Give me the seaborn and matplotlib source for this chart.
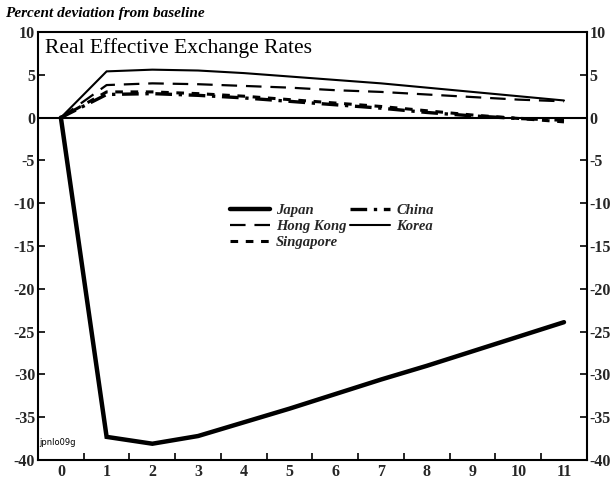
import matplotlib
matplotlib.use("Agg")
import matplotlib.pyplot as plt
import seaborn as sns
import pandas as pd

# Years after the shock
years = [0, 1, 2, 3, 4, 5, 6, 7, 8, 9, 10, 11]

# Percent deviation from baseline, by economy
japan = [0.0, -37.3, -38.1, -37.2, -35.6, -34.0, -32.3, -30.6, -29.0, -27.3, -25.6, -23.9]
hong_kong = [0.0, 3.8, 4.0, 3.9, 3.7, 3.5, 3.2, 3.0, 2.7, 2.4, 2.1, 1.9]
singapore = [0.0, 3.0, 3.0, 2.8, 2.5, 2.1, 1.7, 1.3, 0.8, 0.3, -0.1, -0.5]
china = [0.0, 2.7, 2.8, 2.6, 2.3, 1.9, 1.5, 1.1, 0.6, 0.2, -0.1, -0.3]
korea = [0.0, 5.4, 5.6, 5.5, 5.2, 4.8, 4.4, 4.0, 3.5, 3.0, 2.5, 2.0]

y_ticks = [10, 5, 0, -5, -10, -15, -20, -25, -30, -35, -40]

sns.set_theme(style="white")
plt.rcParams["font.family"] = ["Liberation Serif", "DejaVu Serif"]

fig = plt.figure(figsize=(6.16, 4.79), dpi=100)
ax = fig.add_axes([0.0617, 0.0397, 0.891, 0.8935])

styles = {
    "Japan": dict(data=japan, lw=3.2, dashes=None),
    "Hong Kong": dict(data=hong_kong, lw=1.6, dashes=(7, 4)),
    "Singapore": dict(data=singapore, lw=2.2, dashes=(2.5, 2.5)),
    "China": dict(data=china, lw=2.4, dashes=(5, 2, 1, 2)),
    "Korea": dict(data=korea, lw=1.5, dashes=None),
}

handles = {}
for name, st in styles.items():
    sns.lineplot(x=years, y=st["data"], ax=ax, color="black", lw=st["lw"],
                 label=name, solid_joinstyle="miter")
    line = ax.get_lines()[-1]
    if st["dashes"] is not None:
        line.set_dashes(st["dashes"])
    handles[name] = line

ax.axhline(0, color="black", lw=1.5, zorder=1)

ax.set_xlim(-0.5, 11.5)
ax.set_ylim(-40, 10)
ax.set_xticks(years)
ax.set_xticklabels([str(y) for y in years], fontsize=11.5)
ax.set_xticks([x + 0.5 for x in years[:-1]], minor=True)
ax.tick_params(axis="x", which="major", length=0, pad=3)
ax.tick_params(axis="x", which="minor", direction="in", length=5, width=1.2,
               color="black", bottom=True)
ax.set_yticks(y_ticks)
ax.set_yticklabels([str(v) for v in y_ticks], fontsize=11.5)
ax.tick_params(axis="y", which="major", direction="in", length=5, width=1.2,
               color="black", left=True, right=True, labelleft=True,
               labelright=True, pad=2)
for lbl in ax.get_xticklabels() + ax.get_yticklabels():
    lbl.set_fontweight("bold")
for sp in ax.spines.values():
    sp.set_color("black")
    sp.set_linewidth(1.5)
ax.set_xlabel("")
ax.set_ylabel("")

order = ["Japan", "Hong Kong", "Singapore", "China", "Korea"]
leg = ax.legend([handles[n] for n in order], order, loc="center",
                bbox_to_anchor=(0.535, 0.545), ncol=2, frameon=False,
                handlelength=2.8, handletextpad=0.4, columnspacing=0.2,
                labelspacing=0.2,
                prop=dict(family="Liberation Serif", style="italic",
                          weight="bold", size=10.5))

ax.text(0.012, 0.985, "Real Effective Exchange Rates", transform=ax.transAxes,
        ha="left", va="top", fontsize=15.5, color="black")
fig.text(0.008, 0.972, "Percent deviation from baseline", ha="left", va="center",
         fontsize=11, style="italic", weight="bold", color="black")
ax.text(0.003, 0.03, "jpnlo09g", transform=ax.transAxes, ha="left",
        va="bottom", fontsize=6, family="DejaVu Sans", color="black")

fig.savefig("out.png", dpi=100, facecolor="white")
